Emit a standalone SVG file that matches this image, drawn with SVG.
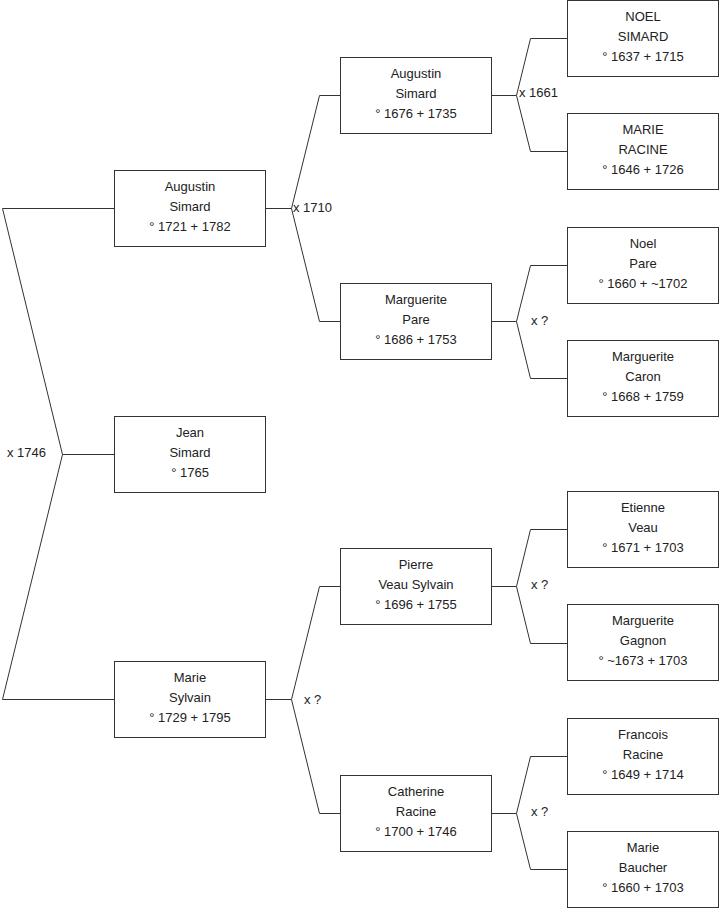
<svg xmlns="http://www.w3.org/2000/svg" width="719" height="908" viewBox="0 0 719 908">
<style>
.box rect{fill:#fff;stroke:#333;stroke-width:1}
text{font-family:"Liberation Sans",Arial,sans-serif;font-size:13px;fill:#222}
.box text{text-anchor:middle}
.conn path{fill:none;stroke:#333;stroke-width:1}
</style>
<rect width="719" height="908" fill="#fff"/>
<g class="conn">
<path d="M114.5,208.5 H2.5 L62.5,454.5 L2.5,699.5 H114.5 M62.5,454.5 H114.5"/>
<path d="M265.5,208.5 H291.5 M340.5,95.5 H319.5 L291.5,208.5 L319.5,321.5 H340.5"/>
<path d="M265.5,699.5 H291.5 M340.5,586.5 H319.5 L291.5,699.5 L319.5,813.5 H340.5"/>
<path d="M491.5,95.5 H516.5 M567.5,38.5 H530.5 L516.5,95.5 L530.5,151.5 H567.5"/>
<path d="M491.5,321.5 H516.5 M567.5,265.5 H530.5 L516.5,321.5 L530.5,378.5 H567.5"/>
<path d="M491.5,586.5 H516.5 M567.5,529.5 H530.5 L516.5,586.5 L530.5,643.5 H567.5"/>
<path d="M491.5,813.5 H516.5 M567.5,756.5 H530.5 L516.5,813.5 L530.5,869.5 H567.5"/>
<text x="7" y="457">x 1746</text>
<text x="293" y="212">x 1710</text>
<text x="304" y="704">x ?</text>
<text x="519" y="97">x 1661</text>
<text x="531" y="325">x ?</text>
<text x="531" y="589">x ?</text>
<text x="531" y="816">x ?</text>
</g>
<g id="n1" class="box"><rect x="114.5" y="170.5" width="151" height="76"/><text x="190" y="191">Augustin</text><text x="190" y="211">Simard</text><text x="190" y="231">° 1721 + 1782</text></g>
<g id="n2" class="box"><rect x="114.5" y="416.5" width="151" height="76"/><text x="190" y="437">Jean</text><text x="190" y="457">Simard</text><text x="190" y="477">° 1765</text></g>
<g id="n3" class="box"><rect x="114.5" y="661.5" width="151" height="76"/><text x="190" y="682">Marie</text><text x="190" y="702">Sylvain</text><text x="190" y="722">° 1729 + 1795</text></g>
<g id="n4" class="box"><rect x="340.5" y="57.5" width="151" height="76"/><text x="416" y="78">Augustin</text><text x="416" y="98">Simard</text><text x="416" y="118">° 1676 + 1735</text></g>
<g id="n5" class="box"><rect x="340.5" y="283.5" width="151" height="76"/><text x="416" y="304">Marguerite</text><text x="416" y="324">Pare</text><text x="416" y="344">° 1686 + 1753</text></g>
<g id="n6" class="box"><rect x="340.5" y="548.5" width="151" height="76"/><text x="416" y="569">Pierre</text><text x="416" y="589">Veau Sylvain</text><text x="416" y="609">° 1696 + 1755</text></g>
<g id="n7" class="box"><rect x="340.5" y="775.5" width="151" height="76"/><text x="416" y="796">Catherine</text><text x="416" y="816">Racine</text><text x="416" y="836">° 1700 + 1746</text></g>
<g id="n8" class="box"><rect x="567.5" y="0.5" width="151" height="76"/><text x="643" y="21">NOEL</text><text x="643" y="41">SIMARD</text><text x="643" y="61">° 1637 + 1715</text></g>
<g id="n9" class="box"><rect x="567.5" y="113.5" width="151" height="76"/><text x="643" y="134">MARIE</text><text x="643" y="154">RACINE</text><text x="643" y="174">° 1646 + 1726</text></g>
<g id="n10" class="box"><rect x="567.5" y="227.5" width="151" height="76"/><text x="643" y="248">Noel</text><text x="643" y="268">Pare</text><text x="643" y="288">° 1660 + ~1702</text></g>
<g id="n11" class="box"><rect x="567.5" y="340.5" width="151" height="76"/><text x="643" y="361">Marguerite</text><text x="643" y="381">Caron</text><text x="643" y="401">° 1668 + 1759</text></g>
<g id="n12" class="box"><rect x="567.5" y="491.5" width="151" height="76"/><text x="643" y="512">Etienne</text><text x="643" y="532">Veau</text><text x="643" y="552">° 1671 + 1703</text></g>
<g id="n13" class="box"><rect x="567.5" y="604.5" width="151" height="76"/><text x="643" y="625">Marguerite</text><text x="643" y="645">Gagnon</text><text x="643" y="665">° ~1673 + 1703</text></g>
<g id="n14" class="box"><rect x="567.5" y="718.5" width="151" height="76"/><text x="643" y="739">Francois</text><text x="643" y="759">Racine</text><text x="643" y="779">° 1649 + 1714</text></g>
<g id="n15" class="box"><rect x="567.5" y="831.5" width="151" height="76"/><text x="643" y="852">Marie</text><text x="643" y="872">Baucher</text><text x="643" y="892">° 1660 + 1703</text></g>
</svg>
